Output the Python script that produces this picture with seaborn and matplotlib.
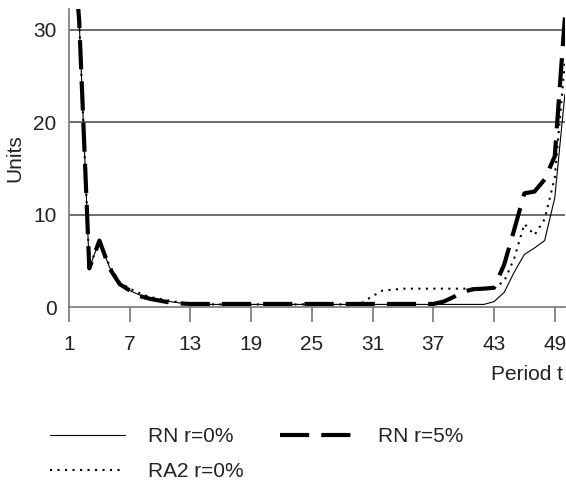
import numpy as np
import pandas as pd
import matplotlib
matplotlib.use("Agg")
import matplotlib.pyplot as plt
import seaborn as sns

# ---- data ----
periods = list(range(1, 51))
rn_r0 = [45, 31, 4.2, 7.2, 4.3, 2.5, 1.8, 1.3, 1.0, 0.8,
         0.6, 0.45, 0.35, 0.3, 0.3, 0.3, 0.3, 0.3, 0.3, 0.3,
         0.3, 0.3, 0.3, 0.3, 0.3, 0.3, 0.3, 0.3, 0.3, 0.3,
         0.3, 0.3, 0.3, 0.3, 0.3, 0.3, 0.3, 0.3, 0.3, 0.3,
         0.3, 0.3, 0.6, 1.6, 3.8, 5.7, 6.4, 7.2, 11.8, 23.0]
ra2_r0 = [45, 31, 4.4, 7.0, 4.5, 2.7, 2.0, 1.5, 1.1, 0.9,
          0.7, 0.5, 0.4, 0.3, 0.3, 0.3, 0.3, 0.3, 0.3, 0.3,
          0.3, 0.3, 0.3, 0.3, 0.3, 0.3, 0.3, 0.3, 0.3, 0.5,
          1.2, 1.8, 1.9, 2.0, 2.0, 2.0, 2.0, 2.0, 2.0, 2.0,
          2.0, 2.0, 2.1, 2.8, 5.3, 9.0, 7.8, 9.5, 14.0, 26.5]
rn_r5 = [45, 31, 4.2, 7.2, 4.2, 2.5, 1.8, 1.2, 0.9, 0.7,
         0.5, 0.4, 0.35, 0.35, 0.35, 0.35, 0.35, 0.35, 0.35, 0.35,
         0.35, 0.35, 0.35, 0.35, 0.35, 0.35, 0.35, 0.35, 0.35, 0.35,
         0.35, 0.35, 0.35, 0.35, 0.35, 0.35, 0.35, 0.6, 1.1, 1.7,
         1.95, 2.0, 2.1, 4.6, 8.4, 12.3, 12.5, 13.8, 16.3, 31.3]
x_ticks = [1, 7, 13, 19, 25, 31, 37, 43, 49]
y_ticks = [0, 10, 20, 30]
labels = ["RN r=0%", "RA2 r=0%", "RN r=5%"]

sns.set_theme(style="white")
plt.rcParams["font.family"] = ["Liberation Sans", "DejaVu Sans"]

fig = plt.figure(figsize=(5.66, 4.83), dpi=100)
ax = fig.add_axes([0.122, 0.364, 0.876, 0.617])

df = pd.DataFrame({"t": periods, "rn0": rn_r0, "ra2": ra2_r0, "rn5": rn_r5})

sns.lineplot(data=df, x="t", y="rn5", ax=ax, color="black", linewidth=3.0,
             label=labels[2], zorder=3)
line_rn5 = ax.lines[-1]
line_rn5.set_dashes((7.0, 2.9))
sns.lineplot(data=df, x="t", y="ra2", ax=ax, color="black", linewidth=1.5,
             label=labels[1], zorder=4)
line_ra2 = ax.lines[-1]
line_ra2.set_dashes((1.0, 2.6))
sns.lineplot(data=df, x="t", y="rn0", ax=ax, color="black", linewidth=0.8,
             label=labels[0], zorder=5)
line_rn0 = ax.lines[-1]

ax.set_xlim(1, 50)
ax.set_ylim(0, 32.2)
ax.set_xticks(x_ticks)
ax.set_yticks(y_ticks)
for yv in y_ticks[1:]:
    ax.axhline(yv, color="#555555", linewidth=1.2, zorder=1)

for s in ["top", "right"]:
    ax.spines[s].set_visible(False)
for s in ["left", "bottom"]:
    ax.spines[s].set_color("#777777")
    ax.spines[s].set_linewidth(1.2)

ax.tick_params(axis="x", direction="out", length=11, width=1.2, color="#777777",
               labelsize=15, pad=9, labelcolor="#222222", bottom=True)
ax.tick_params(axis="y", length=0, labelsize=15, pad=9, labelcolor="#222222")

ax.set_xlabel("")
ax.set_ylabel("Units", fontsize=15, color="#222222", labelpad=6)
fig.text(0.995, 1 - 375 / 483, "Period t", ha="right", va="center", fontsize=15,
         color="#222222")

ax.get_legend().remove()
fig.legend([line_rn0, line_ra2, line_rn5], labels, ncol=2, frameon=False,
           loc="upper left", bbox_to_anchor=(0.089, 1 - 427 / 483),
           borderpad=0, borderaxespad=0, handlelength=3.6, handletextpad=1.1,
           columnspacing=1.72, labelspacing=0.78, fontsize=15,
           labelcolor="#222222")

fig.savefig("out.png", dpi=100)
